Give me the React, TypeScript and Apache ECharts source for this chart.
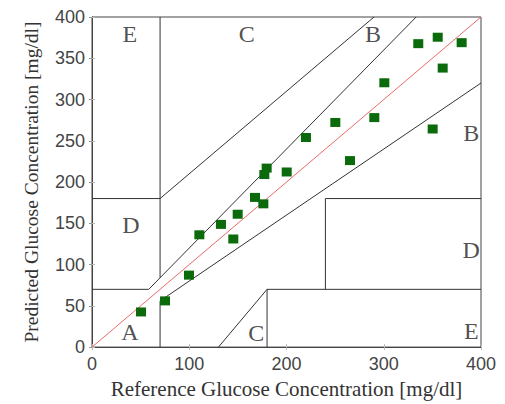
import React, { useEffect, useRef } from "react";
import * as echarts from "echarts";

// Measured points (reference, predicted) in mg/dl
const refValues = [50.4, 75.1, 99.7, 110.4, 132.6, 145.3, 149.8, 167.6, 176.2, 177.2, 179.6, 200.2, 220.0, 250.2, 265.3, 290.3, 300.6, 335.5, 350.3, 355.5, 360.6, 380.1];
const predValues = [42.6, 56, 87.2, 136.1, 148.7, 131, 161, 181.4, 173.6, 209.1, 216.9, 212.2, 254.0, 272.2, 226.0, 278.1, 320.3, 367.7, 264.3, 375.5, 338.1, 368.9];

// Clarke error grid zone boundaries: [x1, y1, x2, y2]
const zoneLines: number[][] = [
  [0, 70, 175 / 3, 70],
  [175 / 3, 70, 400 / 1.2, 400],
  [70, 84, 70, 400],
  [0, 180, 70, 180],
  [70, 180, 290, 400],
  [70, 0, 70, 56],
  [70, 56, 400, 320],
  [180, 0, 180, 70],
  [180, 70, 400, 70],
  [240, 70, 240, 180],
  [240, 180, 400, 180],
  [130, 0, 180, 70],
];

const identityLine = [0, 0, 400, 400];

const zoneLabels = ["E", "C", "B", "B", "D", "D", "A", "C", "E"];
const zoneLabelX = [39, 159, 289, 390, 40, 390, 39, 169, 390];
const zoneLabelY = [379, 379, 379, 259, 148, 118, 18, 17, 20];

const axisTicks = [0, 100, 200, 300, 400];
const yTicks = [0, 50, 100, 150, 200, 250, 300, 350, 400];

export default function App() {
  const ref = useRef<HTMLDivElement>(null);
  useEffect(() => {
    if (!ref.current) return;
    const chart = echarts.init(ref.current, undefined, { renderer: "svg" });
    const lineSeries = zoneLines.map((l) => ({
      type: "line",
      data: [
        [l[0], l[1]],
        [l[2], l[3]],
      ],
      symbol: "none",
      lineStyle: { color: "#333", width: 1 },
      silent: true,
      z: 2,
    }));
    const xMin = axisTicks[0];
    const xMax = axisTicks[axisTicks.length - 1];
    const yMin = yTicks[0];
    const yMax = yTicks[yTicks.length - 1];
    chart.setOption({
      animation: false,
      grid: {
        left: 92,
        right: 24,
        top: 17,
        bottom: 49,
        show: true,
        borderColor: "#444",
        borderWidth: 1,
        backgroundColor: "#fff",
      },
      xAxis: [
        {
          type: "value",
          min: xMin,
          max: xMax,
          interval: 100,
          name: "Reference Glucose Concentration [mg/dl]",
          nameLocation: "middle",
          nameGap: 26,
          nameTextStyle: { fontFamily: "Liberation Serif", fontSize: 21, color: "#333" },
          axisLine: { show: true, lineStyle: { color: "#444" } },
          axisTick: { show: true, inside: true, length: 3, lineStyle: { color: "#bbb" } },
          splitLine: { show: false },
          axisLabel: { fontFamily: "Liberation Sans", fontSize: 18, color: "#444", margin: 8 },
        },
        {
          type: "value",
          position: "top",
          min: xMin,
          max: xMax,
          interval: 100,
          axisLine: { show: true, lineStyle: { color: "#444" } },
          axisTick: { show: true, inside: true, length: 3, lineStyle: { color: "#bbb" } },
          axisLabel: { show: false },
          splitLine: { show: false },
        },
      ],
      yAxis: [
        {
          type: "value",
          min: yMin,
          max: yMax,
          interval: 50,
          name: "Predicted Glucose Concentration [mg/dl]",
          nameLocation: "middle",
          nameGap: 51,
          nameTextStyle: { fontFamily: "Liberation Serif", fontSize: 19.5, color: "#333" },
          axisLine: { show: true, lineStyle: { color: "#444" } },
          axisTick: { show: true, inside: true, length: 3, lineStyle: { color: "#bbb" } },
          splitLine: { show: false },
          axisLabel: { fontFamily: "Liberation Sans", fontSize: 18, color: "#444", margin: 7 },
        },
        {
          type: "value",
          position: "right",
          min: yMin,
          max: yMax,
          interval: 50,
          axisLine: { show: true, lineStyle: { color: "#444" } },
          axisTick: { show: true, inside: true, length: 3, lineStyle: { color: "#999" } },
          axisLabel: { show: false },
          splitLine: { show: false },
        },
      ],
      series: [
        ...lineSeries,
        {
          type: "line",
          data: [
            [identityLine[0], identityLine[1]],
            [identityLine[2], identityLine[3]],
          ],
          symbol: "none",
          lineStyle: { color: "#e86a6a", width: 1 },
          silent: true,
          z: 3,
        },
        {
          type: "scatter",
          data: zoneLabels.map((t, i) => ({ value: [zoneLabelX[i], zoneLabelY[i]], name: t })),
          symbolSize: 0,
          label: {
            show: true,
            position: "inside",
            formatter: (p: any) => p.name,
            fontFamily: "Liberation Serif",
            fontSize: 24,
            color: "#222",
          },
          z: 4,
        },
        {
          type: "scatter",
          data: refValues.map((x, i) => [x, predValues[i]]),
          symbol: "rect",
          symbolSize: [10, 9],
          itemStyle: { color: "#0b6a0b", opacity: 1 },
          z: 5,
        },
      ],
    });
    return () => chart.dispose();
  }, []);
  return (
    <div
      ref={ref}
      style={{ position: "absolute", left: 0, top: 0, width: 505, height: 404 }}
    />
  );
}
